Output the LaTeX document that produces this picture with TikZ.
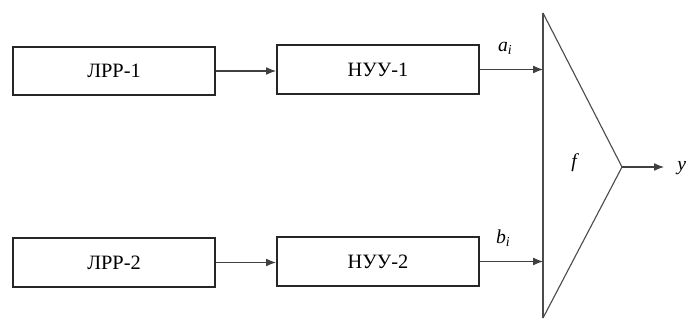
\documentclass[tikz,border=0pt]{standalone}
\usepackage{fontspec}
\setmainfont{Liberation Serif}
\usetikzlibrary{arrows.meta}
\tikzset{
  blok/.style={draw=black!85, line width=1.4pt, minimum width=5.05cm, minimum height=1.22cm,
    inner sep=0pt, font=\fontsize{14.5}{16}\selectfont},
  strelka/.style={draw=black!75, line width=0.75pt, -{Latex[length=7pt,width=5.5pt]}},
  metka/.style={font=\fontsize{14}{16}\selectfont\itshape}
}
\begin{document}
\begin{tikzpicture}[x=0.025cm, y=-0.025cm]
  \useasboundingbox (0,0) rectangle (689,320);

  % блоки
  \node[blok] (lrr1) at (114,71) {ЛРР-1};
  \node[blok] (nuu1) at (378,69.5) {НУУ-1};
  \node[blok] (lrr2) at (114,262.5) {ЛРР-2};
  \node[blok] (nuu2) at (378,261.5) {НУУ-2};

  % треугольник
  \coordinate (verh) at (543,13);
  \coordinate (niz) at (543,318);
  \coordinate (vyh) at (622,167);
  \draw[black!70, line width=1.1pt] (verh) -- (niz);
  \draw[black!70, line width=0.8pt] (verh) -- (vyh) -- (niz);
  \node[metka] (f) at (574,163) {f};

  % связи
  \draw[strelka] (lrr1.east) -- (nuu1.west |- lrr1.east);
  \draw[strelka] (lrr2.east) -- (nuu2.west |- lrr2.east);
  \draw[strelka] (nuu1.east) -- (nuu1.east -| verh)
    node[metka, pos=0.4, above=7pt] (a) {a\textsubscript{i}};
  \draw[strelka] (nuu2.east) -- (nuu2.east -| verh)
    node[metka, pos=0.37, above=7pt] (b) {b\textsubscript{i}};
  \coordinate (konec) at (664,167);
  \draw[strelka] (vyh) -- (konec);
  \node[metka, anchor=west, inner sep=0pt] (y) at (677,168) {y};

\end{tikzpicture}
\end{document}
